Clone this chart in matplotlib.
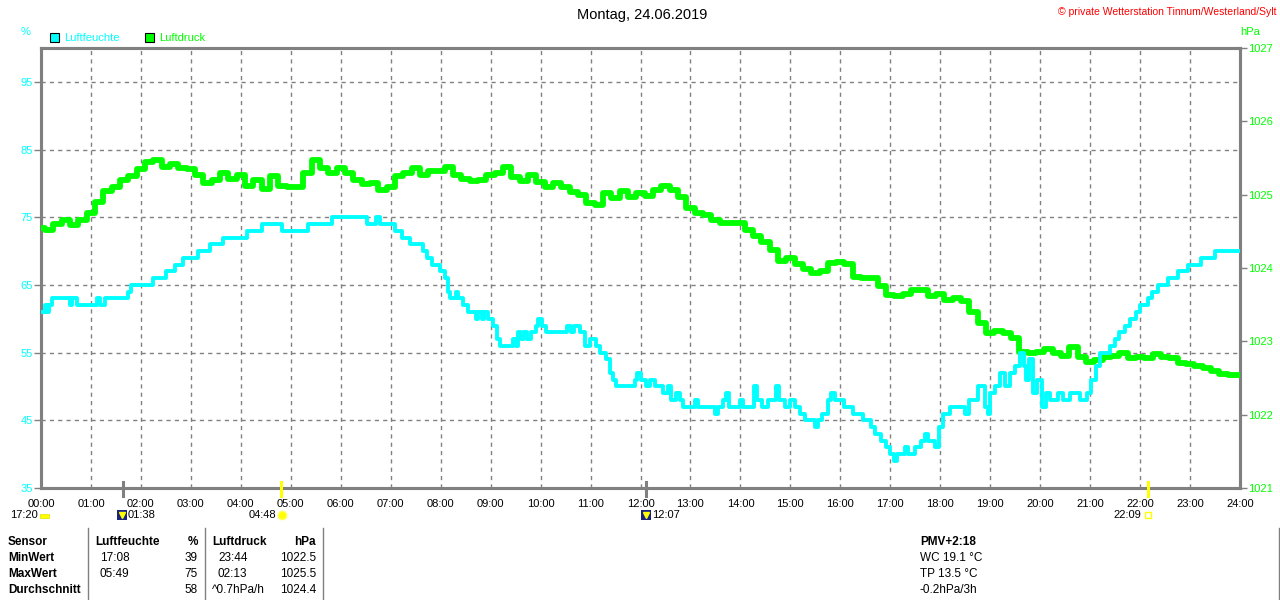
import matplotlib
matplotlib.use("Agg")
import matplotlib.pyplot as plt
from matplotlib.patches import Rectangle
from matplotlib.lines import Line2D
import numpy as np

plt.rcParams["font.family"] = ["Liberation Sans", "DejaVu Sans"]

# --- Daten ---------------------------------------------------------------
# Luftfeuchte: Stufen (Stunde, Wert in %)
feuchte_zeit = [
    0.0, 0.08, 0.12, 0.16, 0.22, 0.58, 0.62, 0.72, 1.12, 1.18, 1.28, 1.75, 1.8,
    2.24, 2.5, 2.68, 2.84, 3.14, 3.38, 3.64, 4.12, 4.42, 4.82, 5.34, 5.82,
    6.52, 6.7, 6.78, 7.08, 7.22, 7.38, 7.64, 7.72, 7.82, 7.98, 8.08, 8.14,
    8.18, 8.3, 8.34, 8.45, 8.54, 8.7, 8.74, 8.82, 8.86, 8.94, 9.05, 9.12,
    9.18, 9.45, 9.5, 9.54, 9.6, 9.66, 9.72, 9.8, 9.9, 9.94, 10.02, 10.1,
    10.52, 10.6, 10.66, 10.78, 10.88, 10.98, 11.1, 11.18, 11.3, 11.38, 11.44,
    11.5, 11.88, 11.92, 12.0, 12.12, 12.2, 12.3, 12.45, 12.55, 12.62, 12.72,
    12.8, 12.86, 13.1, 13.15, 13.5, 13.56, 13.66, 13.72, 13.78, 14.0, 14.06,
    14.28, 14.34, 14.44, 14.55, 14.72, 14.78, 14.9, 15.0, 15.1, 15.2, 15.3,
    15.5, 15.56, 15.64, 15.76, 15.82, 15.9, 16.08, 16.25, 16.45, 16.62, 16.7,
    16.82, 16.92, 17.0, 17.08, 17.14, 17.3, 17.36, 17.5, 17.62, 17.7, 17.76,
    17.9, 17.98, 18.06, 18.2, 18.5, 18.58, 18.76, 18.9, 18.96, 19.0, 19.1,
    19.2, 19.3, 19.4, 19.5, 19.6, 19.68, 19.72, 19.78, 19.86, 19.94, 20.04,
    20.12, 20.2, 20.35, 20.45, 20.6, 20.8, 20.94, 21.02, 21.12, 21.2, 21.4,
    21.5, 21.58, 21.7, 21.8, 21.92, 22.0, 22.16, 22.24, 22.36, 22.56, 22.76,
    22.96, 23.22, 23.5, 24.0,
]
feuchte_wert = [
    61, 62, 61, 62, 63, 62, 63, 62, 63, 62, 63, 64, 65,
    66, 67, 68, 69, 70, 71, 72, 73, 74, 73, 74, 75,
    74, 75, 74, 73, 72, 71, 70, 69, 68, 67, 66, 64,
    63, 64, 63, 62, 61, 60, 61, 60, 61, 60, 59, 57,
    56, 57, 56, 58, 57, 58, 57, 58, 59, 60, 59, 58,
    59, 58, 59, 58, 56, 57, 56, 55, 54, 52, 51,
    50, 51, 52, 51, 50, 51, 50, 49, 50, 48, 49,
    48, 47, 48, 47, 46, 47, 48, 49, 47, 48, 47,
    50, 48, 47, 48, 50, 48, 47, 48, 47, 46, 45,
    44, 45, 46, 48, 49, 48, 47, 46, 45, 44, 43,
    42, 41, 40, 39, 40, 41, 40, 41, 42, 43, 42,
    41, 44, 46, 47, 46, 48, 50, 47, 46, 49, 50,
    52, 50, 52, 53, 55, 53, 51, 54, 49, 51, 47,
    49, 48, 49, 48, 49, 48, 49, 51, 53, 55, 56,
    57, 58, 59, 60, 61, 62, 63, 64, 65, 66, 67,
    68, 69, 70, 70,
]

# Luftdruck: 10-Minuten-Werte in hPa, eine Zeile pro Stunde
druck_wert = [
    1024.55, 1024.52, 1024.60, 1024.65, 1024.58, 1024.65,
    1024.75, 1024.90, 1025.05, 1025.10, 1025.20, 1025.25,
    1025.35, 1025.45, 1025.47, 1025.38, 1025.42, 1025.36,
    1025.35, 1025.27, 1025.16, 1025.20, 1025.30, 1025.22,
    1025.27, 1025.12, 1025.20, 1025.08, 1025.25, 1025.12,
    1025.10, 1025.10, 1025.30, 1025.47, 1025.36, 1025.30,
    1025.36, 1025.30, 1025.20, 1025.14, 1025.16, 1025.06,
    1025.10, 1025.25, 1025.30, 1025.36, 1025.27, 1025.32,
    1025.32, 1025.38, 1025.27, 1025.22, 1025.18, 1025.20,
    1025.27, 1025.30, 1025.38, 1025.24, 1025.18, 1025.27,
    1025.17, 1025.10, 1025.16, 1025.10, 1025.04, 1025.00,
    1024.88, 1024.86, 1025.02, 1024.95, 1025.05, 1024.97,
    1025.02, 1024.98, 1025.06, 1025.12, 1025.06, 1024.97,
    1024.82, 1024.75, 1024.72, 1024.65, 1024.61, 1024.62,
    1024.61, 1024.52, 1024.43, 1024.36, 1024.25, 1024.10,
    1024.14, 1024.05, 1023.98, 1023.93, 1023.96, 1024.07,
    1024.08, 1024.05, 1023.88, 1023.86, 1023.86, 1023.75,
    1023.63, 1023.62, 1023.64, 1023.70, 1023.70, 1023.62,
    1023.64, 1023.57, 1023.59, 1023.55, 1023.40, 1023.25,
    1023.11, 1023.14, 1023.11, 1023.05, 1022.86, 1022.84,
    1022.86, 1022.90, 1022.84, 1022.80, 1022.92, 1022.79,
    1022.72, 1022.75, 1022.78, 1022.80, 1022.84, 1022.77,
    1022.78, 1022.77, 1022.83, 1022.78, 1022.77, 1022.70,
    1022.69, 1022.67, 1022.64, 1022.60, 1022.55, 1022.54,
    1022.54,
]
druck_zeit = np.arange(len(druck_wert)) / 6.0

stunden_labels = [f"{h:02d}:00" for h in range(25)]
feuchte_ticks = [35, 45, 55, 65, 75, 85, 95]
druck_ticks = [1021, 1022, 1023, 1024, 1025, 1026, 1027]

tabelle = [
    ["Sensor", "Luftfeuchte", "%", "Luftdruck", "hPa"],
    ["MinWert", "17:08", "39", "23:44", "1022.5"],
    ["MaxWert", "05:49", "75", "02:13", "1025.5"],
    ["Durchschnitt", "", "58", "^0.7hPa/h", "1024.4"],
]
pmv_text = ["PMV+2:18", "WC 19.1 °C", "TP 13.5 °C", "-0.2hPa/3h"]

CYAN = "#00ffff"
GRUEN = "#00ff00"
GRAU = "#808080"
FS = 8

W, H = 1280, 600
fig = plt.figure(figsize=(12.8, 6.0), dpi=100)
fig.patch.set_facecolor("white")


def px(x, y):
    return x / W, 1 - y / H


# --- Achsen --------------------------------------------------------------
ax = fig.add_axes([41 / W, 1 - 488 / H, 1199 / W, 440 / H])
ax.set_xlim(0, 24)
ax.set_ylim(35, 100)
ax2 = ax.twinx()
ax2.set_ylim(1021, 1027)

for a in (ax, ax2):
    for s in a.spines.values():
        s.set_color(GRAU)
        s.set_linewidth(2.2)

# Gitter
for h in range(1, 24):
    ax.axvline(h, color=GRAU, lw=1, ls=(0, (3, 3)), zorder=1)
for v in feuchte_ticks[1:]:
    ax.axhline(v, color=GRAU, lw=1, ls=(0, (3, 3)), zorder=1)

ax.set_xticks(range(25))
ax.set_xticklabels(stunden_labels, fontsize=FS)
ax.tick_params(axis="x", length=0, pad=8)

ax.set_yticks(feuchte_ticks)
ax.tick_params(axis="y", colors=GRAU, labelcolor=CYAN, labelsize=FS,
               length=5, width=1, pad=1)
ax2.set_yticks(druck_ticks)
ax2.tick_params(axis="y", colors=GRAU, labelcolor=GRUEN, labelsize=FS,
                length=5, width=1, pad=1)

ax2.plot(druck_zeit, druck_wert, color=GRUEN, lw=4.2, zorder=3,
         drawstyle="steps-mid")
ax2.step(feuchte_zeit, feuchte_wert, where="post", color=CYAN, lw=2.8,
         zorder=4, transform=ax.transData)

# --- Kopf ----------------------------------------------------------------
fig.text(*px(642, 15), "Montag, 24.06.2019", fontsize=10.5, ha="center",
         va="center", color="black")
fig.text(*px(1277, 12), "© private Wetterstation Tinnum/Westerland/Sylt",
         fontsize=7.5, ha="right", va="center", color="red")
fig.text(*px(26, 32), "%", fontsize=FS, ha="center", va="center", color=CYAN)
fig.text(*px(1250, 32), "hPa", fontsize=FS, ha="center", va="center",
         color=GRUEN)

for x0, farbe, name in [(50, CYAN, "Luftfeuchte"), (145, GRUEN, "Luftdruck")]:
    fig.patches.append(Rectangle(px(x0, 42), 9 / W, 9 / H, facecolor=farbe,
                                 edgecolor="black", lw=0.8,
                                 transform=fig.transFigure))
    fig.text(*px(x0 + 14, 38), name, fontsize=FS, ha="left", va="center",
             color=farbe)

# --- Sonne / Mond --------------------------------------------------------
for h, farbe in [(1 + 38 / 60, GRAU), (12 + 7 / 60, GRAU),
                 (4 + 48 / 60, "#ffff00"), (22 + 9 / 60, "#ffff00")]:
    xf = (41 + h / 24 * 1199) / W
    fig.lines.append(Line2D([xf, xf], [1 - 482 / H, 1 - 496 / H], color=farbe,
                            lw=2.2, transform=fig.transFigure))

SY = 515
fig.text(*px(38, SY), "17:20", fontsize=FS, ha="right", va="center")
fig.patches.append(Rectangle(px(40, 518), 9 / W, 4 / H, facecolor="#ffff00",
                             edgecolor="#e0e000", lw=0.5,
                             transform=fig.transFigure))

for xi, txt in [(117, "01:38"), (641, "12:07")]:
    fig.patches.append(Rectangle(px(xi, 520), 10 / W, 10 / H,
                                 facecolor="#1a237e", edgecolor="none",
                                 transform=fig.transFigure))
    fig.lines.append(Line2D([(xi + 5) / W], [1 - 515 / H], marker="v",
                            markersize=4, color="#ffff00", lw=0,
                            transform=fig.transFigure))
    fig.text(*px(xi + 11, SY), txt, fontsize=FS, ha="left", va="center")

fig.text(*px(276, SY), "04:48", fontsize=FS, ha="right", va="center")
fig.lines.append(Line2D([282 / W], [1 - 515 / H], marker="o", markersize=6,
                        color="#ffff00", markeredgecolor="#ffff60", lw=0,
                        transform=fig.transFigure))
fig.text(*px(1141, SY), "22:09", fontsize=FS, ha="right", va="center")
fig.lines.append(Line2D([1148 / W], [1 - 515 / H], marker="s", markersize=4,
                        markerfacecolor="none", markeredgecolor="#ffff00",
                        lw=0, transform=fig.transFigure))

# --- Tabelle -------------------------------------------------------------
for xl in (88, 205, 323, 1279):
    fig.lines.append(Line2D([xl / W, xl / W], [1 - 528 / H, 0], color=GRAU,
                            lw=1, transform=fig.transFigure))

zeilen_y = [542, 558, 574, 590]
for r, zeile in enumerate(tabelle):
    y = zeilen_y[r]
    fw = "bold" if r == 0 else "normal"
    fig.text(*px(8, y), zeile[0], fontsize=8.5, fontweight="bold",
             ha="left", va="center")
    fig.text(*px(95 if r == 0 else 100, y), zeile[1], fontsize=8.5,
             fontweight=fw, ha="left", va="center")
    fig.text(*px(198, y), zeile[2], fontsize=8.5, fontweight=fw,
             ha="right", va="center")
    fig.text(*px(212 if r in (0, 3) else 218, y), zeile[3], fontsize=8.5,
             fontweight=fw, ha="left", va="center")
    fig.text(*px(316, y), zeile[4], fontsize=8.5, fontweight=fw,
             ha="right", va="center")

for r, txt in enumerate(pmv_text):
    fig.text(*px(920, zeilen_y[r]), txt, fontsize=8.5,
             fontweight="bold" if r == 0 else "normal", ha="left",
             va="center")

fig.savefig("out.png", dpi=100)
